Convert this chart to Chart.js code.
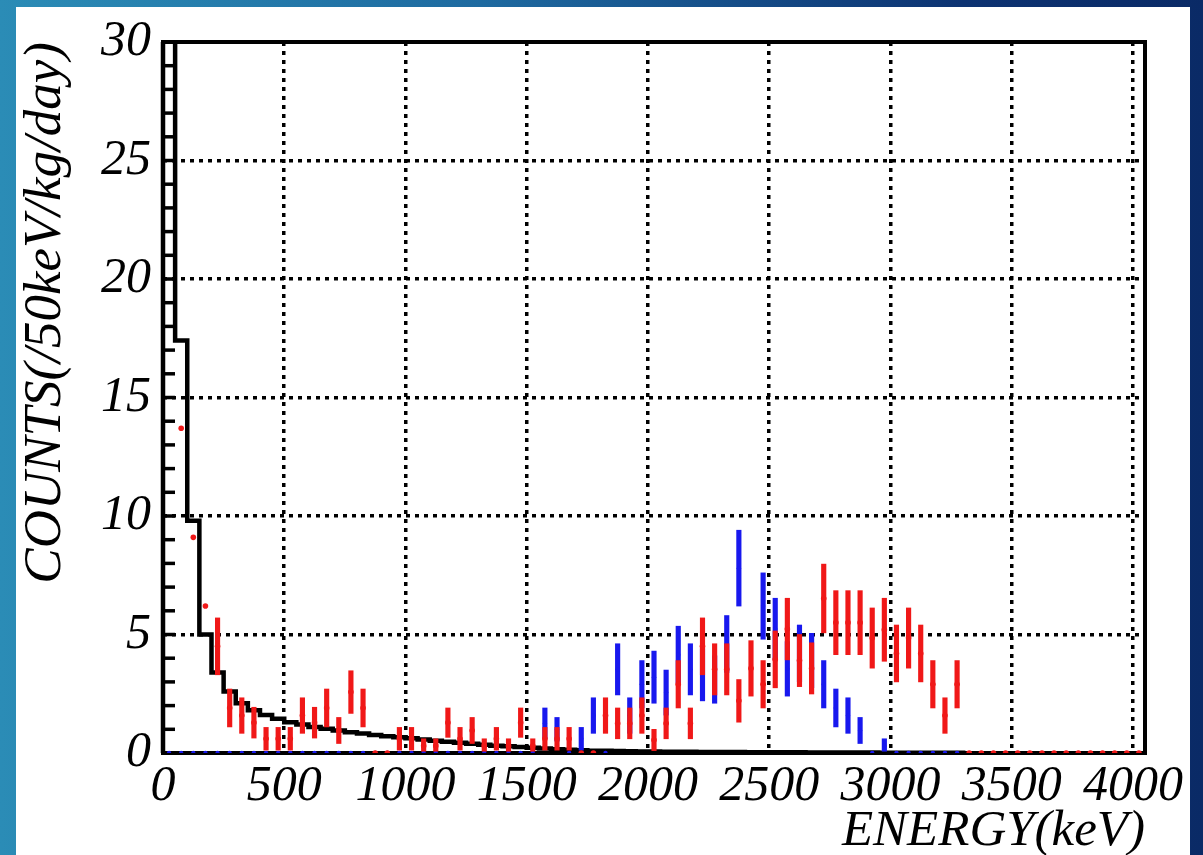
<!DOCTYPE html>
<html>
<head>
<meta charset="utf-8">
<script src="https://cdn.jsdelivr.net/npm/chart.js@4"></script>
<style>
  html, body { margin: 0; padding: 0; }
  body {
    width: 1203px; height: 855px; overflow: hidden; position: relative;
    background: linear-gradient(90deg, #2b8cb6 0%, #1e6aa0 40%, #0d3372 80%, #0a2a66 100%);
    font-family: 'Liberation Serif';
  }
  #panel { position: absolute; left: 16px; top: 7px; width: 1174px; height: 848px; background: #fff; }
  #chart { position: absolute; left: 0; top: 0; }
</style>
</head>
<body>
<div id="panel"></div>
<canvas id="chart" width="1203" height="855"></canvas>
<script>
// 50 keV bins
const binWidth = 50;

// black histogram (simulation), one value per bin starting at 0 keV
const histValues = [45, 17.4, 9.8, 5.0, 3.4, 2.6, 2.1, 1.8, 1.6, 1.45,
  1.3, 1.2, 1.1, 1.02, 0.95, 0.88, 0.82, 0.76, 0.71, 0.66,
  0.62, 0.57, 0.52, 0.47, 0.43, 0.39, 0.35, 0.31, 0.28, 0.25,
  0.22, 0.19, 0.16, 0.14, 0.12, 0.1, 0.09, 0.08, 0.07, 0.06,
  0.06, 0.05, 0.05, 0.05, 0.04, 0.04, 0.04, 0.04, 0.03, 0.03,
  0.03, 0.03, 0.03, 0.02, 0.02, 0.02, 0.02, 0.02, 0.02, 0.01,
  0.01, 0.01, 0.01, 0.01, 0.01, 0.01];

// red data, bin centers 25, 75, 125 ... keV
const redValues = [null, 13.7, 9.1, 6.2, 4.5, 1.9, 1.58, 1.28, 0.6, 0.6,
  0.6, 1.58, 1.28, 1.9, 0.95, 2.57, 1.9, 0, 0, 0.6,
  0.6, 0.3, 0.3, 1.28, 0.6, 0.95, 0.3, 0.6, 0.3, 1.28,
  0.3, 0.6, 0.6, 0.6, 0, 0, 1.58, 1.25, 1.25, 1.58,
  0.55, 1.25, 2.9, 1.25, 4.5, 3.53, 3.53, 2.2, 3.57, 2.9,
  3.95, 5.23, 3.9, 3.57, 6.52, 5.5, 5.5, 5.5, 4.85, 5.2,
  4.2, 4.85, 4.2, 2.9, 1.58, 2.9, 0, 0, 0, 0,
  0, 0, 0, 0, 0, 0, 0, 0, 0, 0, 0];
const redErrors = [0, 0, 0, 0, 1.2, 0.8, 0.75, 0.65, 0.48, 0.48,
  0.48, 0.75, 0.65, 0.8, 0.55, 0.9, 0.8, 0, 0, 0.48,
  0.48, 0.3, 0.3, 0.62, 0.48, 0.55, 0.3, 0.48, 0.3, 0.62,
  0.3, 0.48, 0.48, 0.48, 0, 0, 0.75, 0.65, 0.65, 0.75,
  0.45, 0.65, 1.0, 0.65, 1.2, 1.08, 1.08, 0.9, 1.17, 1.0,
  1.2, 1.3, 1.1, 1.08, 1.45, 1.35, 1.35, 1.35, 1.27, 1.33,
  1.2, 1.27, 1.2, 1.0, 0.75, 1.0, 0, 0, 0, 0,
  0, 0, 0, 0, 0, 0, 0, 0, 0, 0, 0];

// blue data, same bin centers, up to 3275 keV
const blueValues = [0, 0, 0, 0, 0, 0, 0, 0, 0, 0,
  0, 0, 0, 0, 0, 0, 0, 0, 0, 0,
  0, 0, 0, 0, 0, 0, 0, 0, 0, 0,
  0, 1.25, 1.0, 0, 0.6, 1.58, 0, 3.53, 1.58, 2.9,
  3.2, 2.55, 4.15, 3.53, 3.3, 3.1, 4.6, 7.8, null, 6.2,
  5.23, 3.55, 4.2, 3.9, 2.9, 1.9, 1.58, 0.95, 0, 0.3,
  0, 0, 0, 0, 0, 0];
const blueErrors = [0, 0, 0, 0, 0, 0, 0, 0, 0, 0,
  0, 0, 0, 0, 0, 0, 0, 0, 0, 0,
  0, 0, 0, 0, 0, 0, 0, 0, 0, 0,
  0, 0.65, 0.5, 0, 0.48, 0.75, 0, 1.08, 0.75, 1.0,
  1.1, 0.95, 1.2, 1.08, 1.1, 1.0, 1.2, 1.6, 0, 1.4,
  1.3, 1.15, 1.2, 1.15, 1.0, 0.8, 0.75, 0.55, 0, 0.3,
  0, 0, 0, 0, 0, 0];

const xTicks = [0, 500, 1000, 1500, 2000, 2500, 3000, 3500, 4000];
const yTicks = [0, 5, 10, 15, 20, 25, 30];

const RED = '#f01818';
const BLUE = '#1818ee';

function histPoints(values) {
  const pts = [{x: 0, y: 0}];
  values.forEach((v, i) => pts.push({x: i * binWidth, y: v}));
  pts.push({x: values.length * binWidth, y: values[values.length - 1]});
  pts.push({x: values.length * binWidth, y: 0});
  return pts;
}
function centerPoints(values) {
  const pts = [];
  values.forEach((v, i) => { if (v !== null) pts.push({x: binWidth / 2 + i * binWidth, y: v}); });
  return pts;
}
function errorBars(values, errors) {
  const bars = [];
  values.forEach((v, i) => {
    if (v !== null && errors[i] > 0) bars.push({x: binWidth / 2 + i * binWidth, y: [Math.max(0, v - errors[i]), v + errors[i]]});
  });
  return bars;
}

// frame and inward minor ticks, drawn under the data
const framePlugin = {
  id: 'frame',
  beforeDatasetsDraw(chart) {
    const {ctx, chartArea: a, scales} = chart;
    ctx.save();
    ctx.strokeStyle = '#000';
    ctx.lineWidth = 3.5;
    for (let v = 1; v < 30; v++) {
      const y = scales.y.getPixelForValue(v);
      ctx.beginPath();
      ctx.moveTo(a.left, y);
      ctx.lineTo(a.left + 12, y);
      ctx.stroke();
    }
    ctx.lineWidth = 4;
    ctx.strokeRect(a.left, a.top, a.right - a.left, a.bottom - a.top);
    ctx.restore();
  }
};

const serif = "'Liberation Serif'";
Chart.defaults.font.family = serif;

new Chart(document.getElementById('chart'), {
  type: 'scatter',
  data: {
    datasets: [
      {
        type: 'line', data: histPoints(histValues), stepped: true,
        borderColor: '#000', borderWidth: 4.5, pointRadius: 0, fill: false,
        clip: {left: 3, top: 0, right: 0, bottom: 3}, order: 5
      },
      {
        type: 'bar', data: errorBars(blueValues, blueErrors), backgroundColor: BLUE,
        barThickness: 4.5, grouped: false, borderWidth: 0, order: 4
      },
      {
        data: centerPoints(blueValues), backgroundColor: BLUE, pointRadius: 2.2,
        pointBorderWidth: 0, order: 3
      },
      {
        type: 'bar', data: errorBars(redValues, redErrors), backgroundColor: RED,
        barThickness: 4.5, grouped: false, borderWidth: 0, order: 2
      },
      {
        data: centerPoints(redValues), backgroundColor: RED, pointRadius: 2.8,
        pointBorderWidth: 0, order: 1
      }
    ]
  },
  options: {
    responsive: false,
    animation: false,
    devicePixelRatio: 1,
    layout: {padding: {top: 31, right: 58, left: 0, bottom: 0}},
    plugins: {legend: {display: false}, tooltip: {enabled: false}},
    scales: {
      x: {
        type: 'linear', min: 0, max: 4050, offset: false,
        afterFit(scale) { scale.height = 102; },
        afterBuildTicks(scale) { scale.ticks = xTicks.map(v => ({value: v})); },
        ticks: {
          color: '#000', padding: 4, maxRotation: 0, autoSkip: false,
          font: {family: serif, size: 50, style: 'italic'},
          callback: v => String(v)
        },
        grid: {
          offset: false, drawTicks: false, lineWidth: 3.5,
          color: ctx => (ctx.tick && ctx.tick.value > 0 ? '#000' : 'rgba(0,0,0,0)')
        },
        border: {display: false, dash: [4, 5]},
        title: {
          display: true, text: 'ENERGY(keV)', align: 'end', color: '#000',
          font: {family: serif, size: 51, style: 'italic', lineHeight: 0.9},
          padding: 0
        }
      },
      y: {
        min: 0, max: 30,
        afterFit(scale) { scale.width = 163; },
        afterBuildTicks(scale) { scale.ticks = yTicks.map(v => ({value: v})); },
        ticks: {
          color: '#000', padding: 12,
          font: {family: serif, size: 50, style: 'italic'},
          callback: v => String(v)
        },
        grid: {
          drawTicks: false, lineWidth: 3.5,
          color: ctx => (ctx.tick && ctx.tick.value > 0 && ctx.tick.value < 30 ? '#000' : 'rgba(0,0,0,0)')
        },
        border: {display: false, dash: [4, 5]},
        title: {
          display: true, text: 'COUNTS(/50keV/kg/day)', align: 'end', color: '#000',
          font: {family: serif, size: 53, style: 'italic', lineHeight: 1},
          padding: {top: 20, bottom: 0}
        }
      }
    }
  },
  plugins: [framePlugin]
});
</script>
</body>
</html>
